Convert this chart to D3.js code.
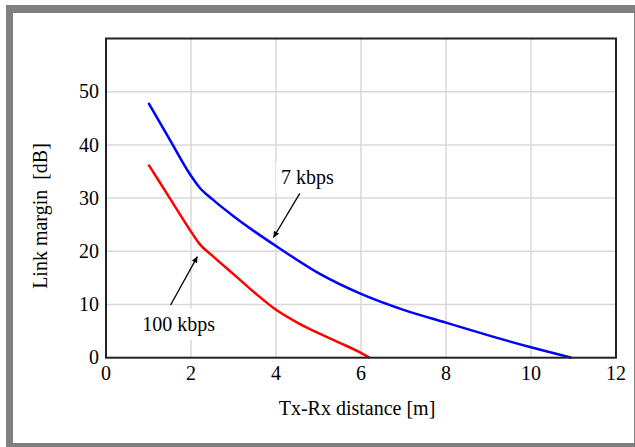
<!DOCTYPE html>
<html>
<head>
<meta charset="utf-8">
<script src="https://cdn.jsdelivr.net/npm/d3@7"></script>
<style>
  body { margin: 0; background: #fff; }
</style>
</head>
<body>
<div id="chart"></div>
<script>
// data
const xTicks = [0, 2, 4, 6, 8, 10, 12]
const yTicks = [0, 10, 20, 30, 40, 50]

const dist7k = [1, 1.5, 2.0, 2.2, 2.5, 3, 3.5, 4, 5, 6, 7, 8, 9, 10, 10.95]
const margin7k = [47.9, 41.0, 34.2, 32.0, 29.8, 26.6, 23.7, 21.0, 15.9, 12.0, 9.0, 6.6, 4.2, 1.95, 0]

const dist100k = [1, 1.5, 2.0, 2.2, 2.5, 3, 3.5, 4, 4.5, 5, 5.5, 6, 6.2]
const margin100k = [36.3, 30.0, 23.7, 21.4, 19.2, 15.7, 12.2, 9.0, 6.6, 4.6, 2.8, 0.9, 0]

const labels = ['7 kbps', '100 kbps']
const labelAt = [[4.74, 32.6], [1.71, 5.1]]
const arrowFrom = [[4.56, 30.9], [1.52, 9.9]]
const arrowTo = [[3.94, 22.6], [2.15, 19.0]]

const W = 635, H = 447
const svg = d3.select('#chart').append('svg')
  .attr('width', W).attr('height', H)
  .style('font-family', 'Liberation Serif')

// gray frame
svg.append('rect').attr('x', 6).attr('y', 5).attr('width', W - 6).attr('height', H - 5).attr('fill', '#808080')
svg.append('rect').attr('x', 13).attr('y', 13).attr('width', 621).attr('height', 430).attr('fill', '#fff')

const x = d3.scaleLinear().domain([0, 12]).range([106, 616])
const y = d3.scaleLinear().domain([0, 60]).range([357.7, 38.5])

// grid
svg.append('g').selectAll('line')
  .data(xTicks.slice(1, -1))
  .enter().append('line')
  .attr('x1', d => x(d)).attr('x2', d => x(d))
  .attr('y1', y(0)).attr('y2', y(60))
  .attr('stroke', '#d9d9d9').attr('stroke-width', 1.5)

svg.append('g').selectAll('line')
  .data(yTicks.slice(1))
  .enter().append('line')
  .attr('x1', x(0)).attr('x2', x(12))
  .attr('y1', d => y(d)).attr('y2', d => y(d))
  .attr('stroke', '#d9d9d9').attr('stroke-width', 1.5)

// curves
const line = d3.line()
  .x(d => x(d[0]))
  .y(d => y(d[1]))
  .curve(d3.curveMonotoneX)

svg.append('path')
  .datum(dist7k.map((d, i) => [d, margin7k[i]]))
  .attr('d', line)
  .attr('fill', 'none').attr('stroke', '#0000ff').attr('stroke-width', 2.5)

svg.append('path')
  .datum(dist100k.map((d, i) => [d, margin100k[i]]))
  .attr('d', line)
  .attr('fill', 'none').attr('stroke', '#ff0000').attr('stroke-width', 2.5)

// axes box
svg.append('rect')
  .attr('x', x(0)).attr('y', y(60))
  .attr('width', x(12) - x(0)).attr('height', y(0) - y(60))
  .attr('fill', 'none').attr('stroke', '#222').attr('stroke-width', 2)

// tick labels
svg.append('g').selectAll('text')
  .data(xTicks)
  .enter().append('text')
  .attr('x', d => x(d)).attr('y', 380)
  .attr('text-anchor', 'middle')
  .style('font-size', '20px')
  .text(d => d)

svg.append('g').selectAll('text')
  .data(yTicks)
  .enter().append('text')
  .attr('x', 99).attr('y', d => y(d))
  .attr('dy', '0.33em')
  .attr('text-anchor', 'end')
  .style('font-size', '20px')
  .text(d => d)

svg.append('text')
  .attr('x', 357).attr('y', 415)
  .attr('text-anchor', 'middle')
  .style('font-size', '20px')
  .text('Tx-Rx distance [m]')

svg.append('text')
  .attr('transform', 'translate(47,216) rotate(-90)')
  .attr('text-anchor', 'middle')
  .style('font-size', '20px')
  .text('Link margin\u00a0\u00a0[dB]')

// annotations
svg.append('defs').append('marker')
  .attr('id', 'arrow')
  .attr('viewBox', '0 0 10 10')
  .attr('refX', 10).attr('refY', 5)
  .attr('markerWidth', 9).attr('markerHeight', 6)
  .attr('markerUnits', 'userSpaceOnUse')
  .attr('orient', 'auto')
  .append('path').attr('d', 'M0,0 L10,5 L0,10 z').attr('fill', '#000')

labels.forEach((t, i) => {
  const g = svg.append('g')
  const txt = g.append('text')
    .attr('x', x(labelAt[i][0])).attr('y', y(labelAt[i][1]))
    .attr('text-anchor', 'middle')
    .style('font-size', '20px')
    .text(t)
  const bb = txt.node().getBBox()
  g.insert('rect', 'text')
    .attr('x', bb.x - 5).attr('y', bb.y - 4)
    .attr('width', bb.width + 10).attr('height', bb.height + 8)
    .attr('fill', '#fff')
  svg.append('line')
    .attr('x1', x(arrowFrom[i][0])).attr('y1', y(arrowFrom[i][1]))
    .attr('x2', x(arrowTo[i][0])).attr('y2', y(arrowTo[i][1]))
    .attr('stroke', '#000').attr('stroke-width', 1.3)
    .attr('marker-end', 'url(#arrow)')
})
</script>
</body>
</html>
